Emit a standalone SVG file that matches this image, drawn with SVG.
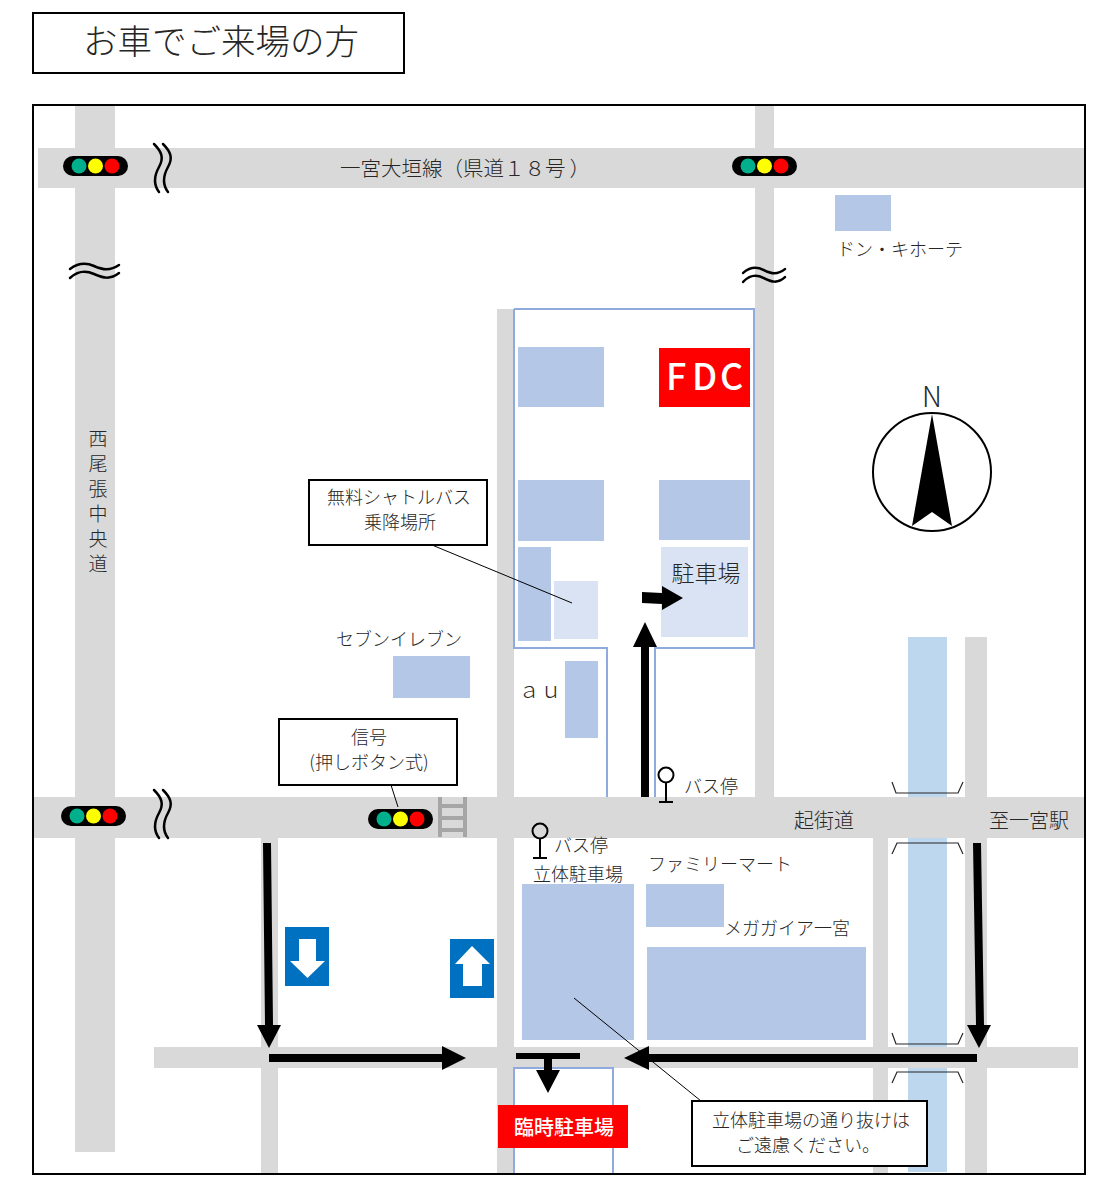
<svg xmlns="http://www.w3.org/2000/svg" width="1108" height="1189" viewBox="0 0 1108 1189">
<style>
text{font-family:"Noto Sans CJK JP","Liberation Sans",sans-serif;font-weight:300;fill:#262626;text-anchor:middle;text-spacing-trim:space-all}
.road{fill:#D9D9D9}.b{fill:#B4C7E7}.l{fill:#DAE3F3}
.box{fill:#fff;stroke:#000;stroke-width:2}
.out{fill:none;stroke:#8FAADC;stroke-width:2}
.thin{fill:none;stroke:#000;stroke-width:1}
.w{fill:none;stroke:#000;stroke-width:2.5;stroke-linecap:round}
.br{fill:none;stroke:#262626;stroke-width:1.2}
.a{fill:#000}.blue{fill:#0070C0}
.s{font-size:18px}
.m{font-size:20px}
.bus{fill:none;stroke:#000;stroke-width:2}
</style>
<defs>
<g id="sig"><rect x="0" y="0" width="65" height="20" rx="10" fill="#000"/><circle cx="16" cy="10" r="7.5" fill="#00B08C"/><circle cx="32.500" cy="10" r="7.5" fill="#FFFF00"/><circle cx="49" cy="10" r="7.5" fill="#FF0000"/></g>
<g id="wv"><path class="w" d="M0 0C8 8 10 14 5 23S-1 40 5 48"/><path class="w" d="M9 0C17 8 19 14 14 23S8 40 14 48"/></g>
<g id="wh"><path class="w" d="M0 9C8 3 15 2 24 6S40 11 49 5"/><path class="w" d="M0 18C8 11 15 10 24 14S40 20 49 13"/></g>
<g id="busicon"><circle cx="0" cy="0" r="7.500" class="bus"/><path class="bus" d="M0 8V27M-7 27H7"/></g>
</defs>
<rect width="1108" height="1189" fill="#fff"/>
<g id="roads">
<rect class="road" x="75" y="105" width="40" height="1047"/>
<rect class="road" x="38" y="148" width="1047" height="40"/>
<rect class="road" x="755" y="105" width="19" height="692"/>
<rect class="road" x="497" y="309" width="17" height="865"/>
<rect class="road" x="33" y="797" width="1052" height="41"/>
<rect class="road" x="154" y="1047" width="924" height="21"/>
<rect class="road" x="261" y="838" width="17" height="336"/>
<rect class="road" x="873" y="838" width="15" height="336"/>
<rect class="road" x="965" y="637" width="22" height="537"/>
</g>
<g id="river">
<rect x="908" y="637" width="39" height="160" fill="#BDD7EE"/>
<rect x="908" y="838" width="39" height="209" fill="#BDD7EE"/>
<rect x="908" y="1068" width="39" height="104" fill="#BDD7EE"/>
</g>
<g id="lots">
<path class="out" d="M514 309H754V648H655V797M514 309V648H607V797"/>
<path class="out" d="M514 1174V1068H613V1174"/>
</g>
<g id="buildings">
<rect class="b" x="518" y="347" width="86" height="60"/>
<rect class="b" x="518" y="480" width="86" height="61"/>
<rect class="b" x="659" y="480" width="91" height="60"/>
<rect class="b" x="518" y="547" width="33" height="94"/>
<rect class="l" x="554" y="581" width="44" height="58"/>
<rect class="l" x="661" y="547" width="87" height="90"/>
<rect class="b" x="835" y="195" width="56" height="36"/>
<rect class="b" x="393" y="656" width="77" height="42"/>
<rect class="b" x="565" y="661" width="33" height="77"/>
<rect class="b" x="522" y="884" width="112" height="156"/>
<rect class="b" x="646" y="884" width="78" height="43"/>
<rect class="b" x="647" y="947" width="219" height="93"/>
</g>
<g id="bridges">
<path class="br" d="M892 782L896 793H958L963 782"/>
<path class="br" d="M892 854L897 843H958L963 854"/>
<path class="br" d="M892 1033L896 1044H958L963 1033"/>
<path class="br" d="M892 1083L897 1072H958L963 1083"/>
</g>
<g id="ladder" fill="#A6A6A6">
<rect x="438" y="797" width="4" height="40"/><rect x="463" y="797" width="4" height="40"/>
<rect x="438" y="804" width="29" height="4"/><rect x="438" y="816" width="29" height="4"/><rect x="438" y="828" width="29" height="4"/>
</g>
<g id="connectors">
<path class="thin" d="M432 545L572 603"/>
<path class="thin" d="M391 785L398 807"/>
<path class="thin" d="M574 998L701 1101"/>
<path class="a" d="M642 592L662 593V586L683 598L662 610V604L642 603Z"/>
<path class="a" d="M641 797V647H633L645 622L657 647H649V797Z"/>
<path class="a" d="M263 843H271L273 1025H281L269 1048L257 1025H265Z"/>
<path class="a" d="M269 1054H442V1046L466 1058L442 1070V1062H269Z"/>
<path class="a" d="M973 843H981L984 1025H991L979 1048L967 1025H976Z"/>
<path class="a" d="M977 1054H649V1046L624 1058L649 1070V1062H977Z"/>
<path class="a" d="M516 1053H580V1059H552V1070H560L548 1093L536 1070H544V1059H516Z"/>
</g>
<g id="frame"><rect x="33" y="105" width="1052" height="1069" fill="none" stroke="#000" stroke-width="2"/></g>
<g id="title"><rect class="box" x="33" y="13" width="371" height="60"/><text x="221" y="54" font-size="34.500">お車でご来場の方</text></g>
<g id="signals">
<use href="#sig" x="63" y="156"/><use href="#sig" x="732" y="156"/><use href="#sig" x="61" y="806"/><use href="#sig" x="368" y="809"/>
<use href="#wv" x="154" y="144"/><use href="#wv" x="154" y="790"/>
<use href="#wh" x="70" y="260"/><use href="#wh" transform="translate(743 264) scale(.86 1)"/>
</g>
<g id="fdc"><rect x="659" y="348" width="91" height="59" fill="#FF0000"/><text x="666 692 720" y="390" font-size="36" style="fill:#fff;font-weight:500;text-anchor:start">FDC</text></g>
<g id="rinji"><rect x="498" y="1105" width="130" height="43" fill="#FF0000"/><text x="564" y="1135" font-size="20" style="fill:#fff;font-weight:500">臨時駐車場</text></g>
<g id="north">
<circle cx="932" cy="472" r="59" fill="#fff" stroke="#000" stroke-width="2"/>
<path class="a" d="M932 414L952 526L932 512L912 526Z"/>
<text x="932" y="407" font-size="28">N</text>
</g>
<g id="oneway">
<rect class="blue" x="285" y="927" width="44" height="59"/>
<path d="M299 939H316V961H325L307.500 978L290 961H299Z" fill="#fff"/>
<rect class="blue" x="450" y="939" width="44" height="59"/>
<path d="M463 986H482V964H490L472 946L455 964H463Z" fill="#fff"/>
</g>
<g id="callout-shuttle"><rect class="box" x="309" y="480" width="178" height="65"/><text class="s" x="399" y="504">無料シャトルバス</text><text class="s" x="400" y="529">乗降場所</text></g>
<g id="callout-signal"><rect class="box" x="279" y="719" width="178" height="66"/><text class="s" x="369" y="744">信号</text><text class="s" x="369" y="769">(押しボタン式)</text></g>
<g id="callout-garage"><rect class="box" x="692" y="1101" width="235" height="65"/><text class="s" x="811" y="1127">立体駐車場の通り抜けは</text><text class="s" x="808" y="1152">ご遠慮ください。</text></g>
<g id="bus1"><use href="#busicon" x="666" y="775"/></g>
<g id="bus2"><use href="#busicon" x="540" y="831"/></g>
<g id="labels">
<text x="340" y="176" font-size="20.500" style="text-anchor:start">一宮大垣線（県道１８号<tspan dx="4">）</tspan></text>
<text class="s" x="900" y="256">ドン・キホーテ</text>
<text class="s" x="399" y="646">セブンイレブン</text>
<text x="540" y="698" font-size="22">ａｕ</text>
<text x="706" y="582" font-size="23">駐車場</text>
<text class="s" x="711" y="793">バス停</text>
<text class="s" x="581" y="852">バス停</text>
<text class="s" x="578" y="881">立体駐車場</text>
<text class="s" x="720" y="871">ファミリーマート</text>
<text class="s" x="787" y="935">メガガイア一宮</text>
<text class="m" x="824" y="828">起街道</text>
<text class="m" x="1029" y="828">至一宮駅</text>
<g font-size="19"><text x="98" y="446">西</text><text x="98" y="471">尾</text><text x="98" y="496">張</text><text x="98" y="521">中</text><text x="98" y="546">央</text><text x="98" y="571">道</text></g>
</g>
</svg>
